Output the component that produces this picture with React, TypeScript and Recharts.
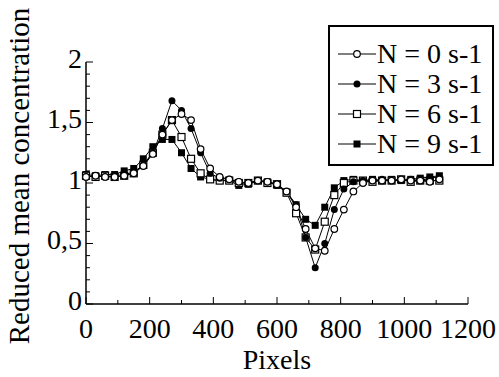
import React from 'react';
import { LineChart, Line, XAxis, YAxis, Label } from 'recharts';

const pixels = [
  0, 30, 60, 90, 120, 150, 180, 210, 240, 270, 300, 330, 360, 390, 420, 450, 480, 510, 540,
  570, 600, 630, 660, 690, 720, 750, 780, 810, 840, 870, 900, 930, 960, 990, 1020, 1050, 1080, 1110,
];

const n0 = [
  1.05, 1.06, 1.05, 1.05, 1.06, 1.08, 1.14, 1.24, 1.4, 1.52, 1.57, 1.52, 1.28, 1.12, 1.05, 1.03, 1.01, 1.0, 1.02,
  1.01, 0.99, 0.93, 0.8, 0.62, 0.46, 0.44, 0.62, 0.78, 0.93, 1.0, 1.02, 1.02, 1.02, 1.03, 1.02, 1.02, 1.01, 1.03,
];
const n3 = [
  1.05, 1.06, 1.05, 1.06, 1.07, 1.09, 1.15, 1.25, 1.45, 1.68, 1.6, 1.45, 1.25, 1.08, 1.04, 1.03, 1.01, 0.99, 1.02,
  1.01, 0.99, 0.93, 0.82, 0.55, 0.3, 0.5, 0.78, 0.95, 1.01, 1.02, 1.02, 1.03, 1.02, 1.02, 1.03, 1.02, 1.04, 1.05,
];
const n6 = [
  1.06, 1.05, 1.06, 1.05, 1.06, 1.08, 1.15, 1.25, 1.4, 1.52, 1.38, 1.2, 1.08, 1.03, 1.02, 1.02, 1.0, 1.0, 1.02,
  1.0, 0.99, 0.92, 0.75, 0.55, 0.45, 0.68, 0.9, 1.0, 1.02, 1.02, 1.01, 1.02, 1.02, 1.03, 1.01, 1.02, 1.02, 1.02,
];
const n9 = [
  1.07, 1.06, 1.07, 1.07, 1.1, 1.12, 1.2, 1.3, 1.36, 1.36, 1.25, 1.12, 1.05, 1.03, 1.02, 1.02, 0.98, 0.99, 1.02,
  1.01, 0.98, 0.92, 0.82, 0.7, 0.65, 0.8, 0.96, 1.02, 1.03, 1.02, 1.03, 1.02, 1.03, 1.02, 1.03, 1.04, 1.05, 1.06,
];

const xTicks = [0, 100, 200, 300, 400, 500, 600, 700, 800, 900, 1000, 1100, 1200];
const xLabels = [0, 200, 400, 600, 800, 1000, 1200];
const yTicks = [0, 0.1, 0.2, 0.3, 0.4, 0.5, 0.6, 0.7, 0.8, 0.9, 1, 1.1, 1.2, 1.3, 1.4, 1.5, 1.6, 1.7, 1.8, 1.9, 2];
const yLabels: Record<string, string> = { '0': '0', '0.5': '0,5', '1': '1', '1.5': '1,5', '2': '2' };

const legendItems = [
  { name: 'N = 0 s-1', shape: 'openCircle' },
  { name: 'N = 3 s-1', shape: 'circle' },
  { name: 'N = 6 s-1', shape: 'openSquare' },
  { name: 'N = 9 s-1', shape: 'square' },
];

const data = pixels.map((p, i) => ({ p, n0: n0[i], n3: n3[i], n6: n6[i], n9: n9[i] }));

const SERIF = 'Times New Roman';

function Marker({ cx, cy, shape }: { cx: number; cy: number; shape: string }) {
  if (shape === 'openCircle') return <circle cx={cx} cy={cy} r={3.3} fill="#fff" stroke="#000" strokeWidth={1.2} />;
  if (shape === 'circle') return <circle cx={cx} cy={cy} r={3.5} fill="#000" />;
  if (shape === 'openSquare') return <rect x={cx - 3.5} y={cy - 3.5} width={7} height={7} fill="#fff" stroke="#000" strokeWidth={1.2} />;
  return <rect x={cx - 3.5} y={cy - 3.5} width={7} height={7} fill="#000" />;
}

const dotFor = (shape: string) => (props: any) => {
  const { cx, cy, index } = props;
  if (cx == null || cy == null) return <g key={`${shape}-${index}`} />;
  return (
    <g key={`${shape}-${index}`}>
      <Marker cx={cx} cy={cy} shape={shape} />
    </g>
  );
};

function YTick({ x, y, payload }: any) {
  const v = Math.round(payload.value * 10) / 10;
  const label = yLabels[String(v)];
  return (
    <g>
      <line x1={x} x2={x + (label ? 7 : 4)} y1={y} y2={y} stroke="#000" strokeWidth={1} />
      {label && (
        <text x={x - 4} y={y - 4} dy="0.35em" textAnchor="end" style={{ fontFamily: SERIF, fontSize: 28 }} fill="#000">
          {label}
        </text>
      )}
    </g>
  );
}

function XTick({ x, y, payload }: any) {
  const major = xLabels.includes(payload.value);
  return (
    <g>
      <line x1={x} x2={x} y1={y} y2={y - (major ? 7 : 4)} stroke="#000" strokeWidth={1} />
      {major && (
        <text x={x} y={y + 34} textAnchor="middle" style={{ fontFamily: SERIF, fontSize: 28 }} fill="#000">
          {payload.value}
        </text>
      )}
    </g>
  );
}

function LegendBox() {
  return (
    <div
      style={{
        position: 'absolute',
        left: 328,
        top: 25,
        width: 162,
        height: 137,
        border: '2px solid #000',
        background: '#fff',
      }}
    >
      <svg width={162} height={137}>
        {legendItems.map((item, i) => {
          const cy = 27 + i * 30;
          return (
            <g key={item.name}>
              <line x1={8} x2={46} y1={cy} y2={cy} stroke="#000" strokeWidth={1} />
              <Marker cx={27} cy={cy} shape={item.shape} />
              <text x={47} y={cy + 9} style={{ fontFamily: SERIF, fontSize: 28 }} fill="#000">
                {item.name}
              </text>
            </g>
          );
        })}
      </svg>
    </div>
  );
}

export default function App() {
  return (
    <div
      style={{
        position: 'absolute',
        left: 0,
        top: 0,
        width: 499,
        height: 377,
        background: '#fff',
        fontFamily: SERIF,
      }}
    >
      <LineChart width={499} height={377} data={data} margin={{ top: 62, right: 31, bottom: 0, left: 40 }}>
        <XAxis
          dataKey="p"
          type="number"
          domain={[0, 1200]}
          ticks={xTicks}
          interval={0}
          tick={<XTick />}
          tickSize={0}
          tickMargin={0}
          height={73}
          axisLine={{ stroke: '#000', strokeWidth: 1.5 }}
          tickLine={false}
        >
          <Label value="Pixels" position="insideBottom" offset={8} style={{ fontFamily: SERIF, fontSize: 28 }} fill="#000" />
        </XAxis>
        <YAxis
          type="number"
          domain={[0, 2]}
          ticks={yTicks}
          interval={0}
          tick={<YTick />}
          tickSize={0}
          tickMargin={0}
          width={46}
          axisLine={{ stroke: '#000', strokeWidth: 1.5 }}
          tickLine={false}
        >
          <Label
            value="Reduced mean concentration"
            angle={-90}
            position="center"
            dx={-44}
            dy={-7}
            style={{ fontFamily: SERIF, fontSize: 29 }}
            fill="#000"
          />
        </YAxis>
        <Line dataKey="n9" stroke="#000" strokeWidth={1} dot={dotFor('square')} isAnimationActive={false} />
        <Line dataKey="n6" stroke="#000" strokeWidth={1} dot={dotFor('openSquare')} isAnimationActive={false} />
        <Line dataKey="n3" stroke="#000" strokeWidth={1} dot={dotFor('circle')} isAnimationActive={false} />
        <Line dataKey="n0" stroke="#000" strokeWidth={1} dot={dotFor('openCircle')} isAnimationActive={false} />
      </LineChart>
      <LegendBox />
    </div>
  );
}
